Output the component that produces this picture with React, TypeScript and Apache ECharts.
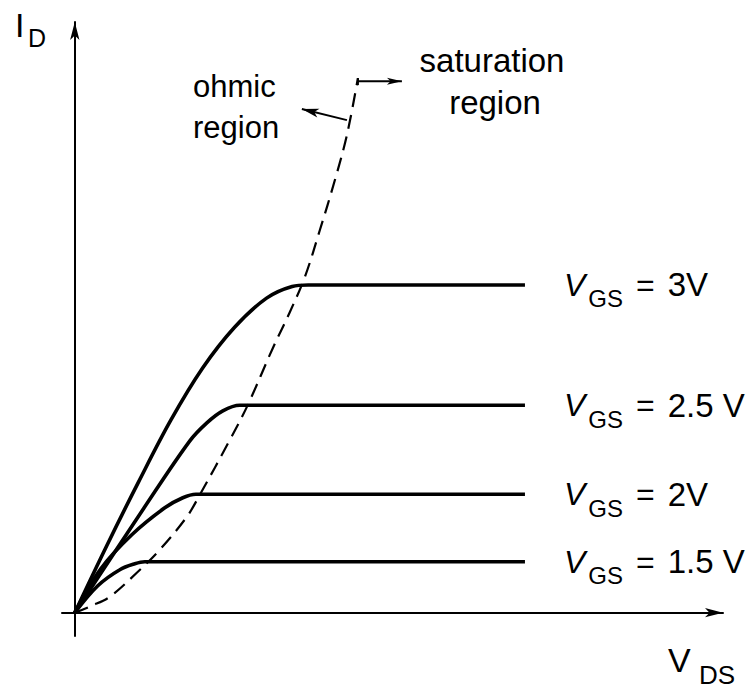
import React, { useEffect, useRef } from 'react';
import * as echarts from 'echarts';

// Drain current curves (VDS, ID in arbitrary units)
const curveVgs3 = [
  [0, 0], [0.5, 1.15], [1.0, 2.25], [1.5, 3.3], [2.0, 4.2], [2.5, 4.9],
  [3.0, 5.4], [3.4, 5.6], [3.65, 5.626], [7.042, 5.626],
];
const curveVgs25 = [
  [0, 0], [1.095, 1.818], [1.8, 2.95], [2.066, 3.259], [2.316, 3.465], [2.582, 3.56], [7.042, 3.56],
];
const curveVgs2 = [
  [0, 0], [0.407, 0.755], [0.892, 1.338], [1.408, 1.801], [1.69, 1.973], [1.894, 2.033], [7.042, 2.033],
];
const curveVgs15 = [
  [0, 0], [0.36, 0.463], [0.704, 0.738], [0.939, 0.84], [1.095, 0.875], [7.042, 0.875],
];
// Ohmic / saturation boundary (dashed)
const boundary = [
  [0, 0], [0.266, 0.12], [0.548, 0.274], [0.97, 0.686], [1.33, 1.081], [1.753, 1.647],
  [1.956, 2.024], [2.426, 2.967], [2.707, 3.568], [3.099, 4.545], [3.365, 5.163],
  [3.599, 5.763], [3.834, 6.569], [4.069, 7.427], [4.257, 8.199], [4.429, 9.177],
];
const vgsValues = ['3V', '2.5 V', '2V', '1.5 V'];
// Annotation arrows (data units): [from, to]
const ohmicArrow = [[4.257, 8.456], [3.552, 8.645]];
const satArrow = [[4.429, 9.125], [5.117, 9.125]];

const FONT = "'Liberation Sans', Arial, Helvetica, sans-serif";

function arrowHead(tip: number[], from: number[], len: number, halfW: number) {
  const dx = tip[0] - from[0];
  const dy = tip[1] - from[1];
  const d = Math.hypot(dx, dy) || 1;
  const ux = dx / d, uy = dy / d;
  const bx = tip[0] - ux * len, by = tip[1] - uy * len;
  const nx = tip[0] - ux * len * 0.75, ny = tip[1] - uy * len * 0.75;
  return [
    [tip[0], tip[1]],
    [bx - uy * halfW, by + ux * halfW],
    [nx, ny],
    [bx + uy * halfW, by - ux * halfW],
  ];
}

export default function App() {
  const ref = useRef<HTMLDivElement>(null);
  useEffect(() => {
    if (!ref.current) return;
    const chart = echarts.init(ref.current, undefined, { renderer: 'svg' });
    const curves = [curveVgs3, curveVgs25, curveVgs2, curveVgs15];
    const axisCommon = {
      type: 'value',
      axisLine: {
        onZero: true,
        symbol: ['none', 'arrow'],
        symbolSize: [7, 18],
        lineStyle: { color: '#000', width: 2 },
      },
      axisTick: { show: false },
      axisLabel: { show: false },
      splitLine: { show: false },
    };
    const series: any[] = curves.map((c, i) => ({
      type: 'line',
      name: 'VGS = ' + vgsValues[i],
      data: c,
      smooth: 0.35,
      showSymbol: false,
      lineStyle: { color: '#000', width: 3.6 },
      endLabel: {
        show: true,
        distance: 39,
        formatter: '{v|V}{s|GS}{e|=}{n|' + vgsValues[i] + '}',
        rich: {
          v: { fontSize: 32, fontStyle: 'italic', fontFamily: FONT, color: '#000', lineHeight: 34 },
          s: { fontSize: 24, fontFamily: FONT, color: '#000', lineHeight: 24, padding: [28, 0, 0, 3] },
          e: { fontSize: 32, fontFamily: FONT, color: '#000', lineHeight: 34, padding: [0, 0, 0, 13] },
          n: { fontSize: 33, fontFamily: FONT, color: '#000', lineHeight: 34, padding: [0, 0, 0, 13] },
        },
      },
    }));
    series.push({
      type: 'line',
      name: 'boundary',
      data: boundary,
      smooth: 0.35,
      showSymbol: false,
      lineStyle: { color: '#000', width: 2.2, type: [14, 8] },
    });
    chart.setOption({
      animation: false,
      backgroundColor: '#fff',
      grid: { left: 62, right: 30, top: 22, bottom: 53, containLabel: false },
      xAxis: { ...axisCommon, min: -0.2, max: 10.14 },
      yAxis: { ...axisCommon, min: -0.4, max: 10.14 },
      series,
    });

    const px = (p: number[]) => chart.convertToPixel({ gridIndex: 0 }, p) as number[];
    const oa = ohmicArrow.map(px);
    const sa = satArrow.map(px);
    const textEl = (text: string, x: number, y: number, size: number, align = 'left', italic = false) => ({
      type: 'text',
      x,
      y,
      style: {
        text,
        fontSize: size,
        fontFamily: FONT,
        fontStyle: italic ? 'italic' : 'normal',
        fill: '#000',
        align,
        verticalAlign: 'middle',
      },
    });
    chart.setOption({
      graphic: [
        { type: 'line', shape: { x1: oa[0][0], y1: oa[0][1], x2: oa[1][0], y2: oa[1][1] }, style: { stroke: '#000', lineWidth: 2 } },
        { type: 'polygon', shape: { points: arrowHead(oa[1], oa[0], 17, 4.5) }, style: { fill: '#000' } },
        { type: 'line', shape: { x1: sa[0][0], y1: sa[0][1] + 4, x2: sa[0][0], y2: sa[0][1] - 3 }, style: { stroke: '#000', lineWidth: 2 } },
        { type: 'line', shape: { x1: sa[0][0], y1: sa[0][1], x2: sa[1][0], y2: sa[1][1] }, style: { stroke: '#000', lineWidth: 2 } },
        { type: 'polygon', shape: { points: arrowHead(sa[1], sa[0], 15, 3.5) }, style: { fill: '#000' } },
        textEl('ohmic', 193, 86, 31),
        textEl('region', 193, 127, 31),
        textEl('saturation', 492, 60, 33, 'center'),
        textEl('region', 495, 102, 33, 'center'),
        textEl('I', 15, 25, 34),
        textEl('D', 28, 38, 25),
        textEl('V', 668, 660, 34),
        textEl('DS', 699, 675, 26),
      ],
    });
    return () => chart.dispose();
  }, []);
  return (
    <div
      ref={ref}
      style={{ position: 'absolute', left: 0, top: 0, width: 753, height: 689, background: '#fff' }}
    />
  );
}
